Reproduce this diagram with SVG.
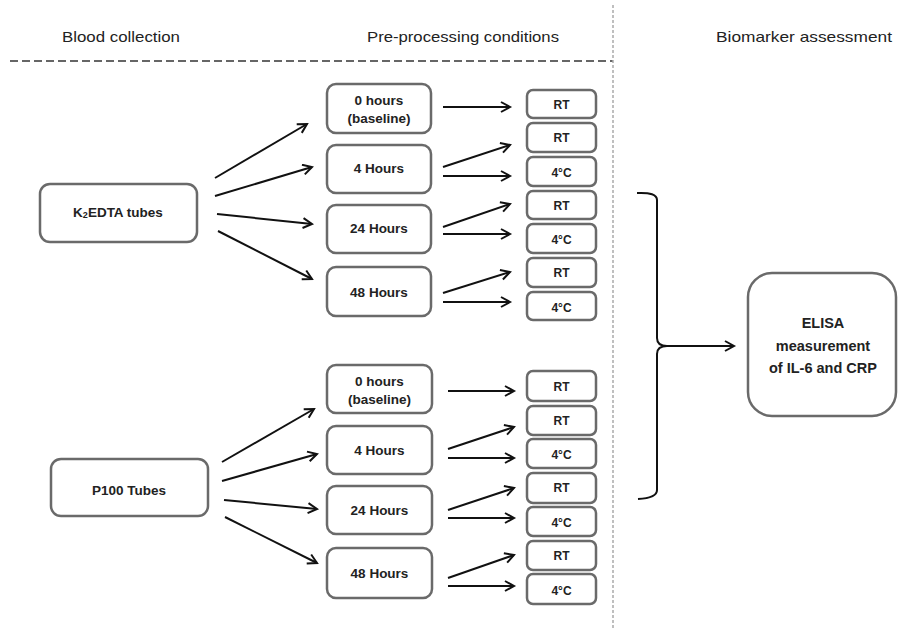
<svg xmlns="http://www.w3.org/2000/svg" width="898" height="630" viewBox="0 0 898 630">
<defs>
<style>
.hdr{font-family:"Liberation Sans",Arial,sans-serif;font-size:15px;fill:#222;}
.box{fill:#fff;stroke:#6a6a6a;stroke-width:2.5;}
.lbl{font-family:"Liberation Sans",Arial,sans-serif;font-weight:bold;font-size:13.5px;fill:#222;text-anchor:middle;dominant-baseline:central;}
.sm{font-size:12px;}
.big{font-size:14.5px;}
.arr{stroke:#111;stroke-width:2;fill:none;marker-end:url(#ah);}
</style>
<marker id="ah" markerUnits="userSpaceOnUse" markerWidth="14" markerHeight="14" refX="11" refY="6" orient="auto">
<path d="M2,1 L11,6 L2,11" fill="none" stroke="#111" stroke-width="2"/>
</marker>
</defs>
<rect width="898" height="630" fill="#fff"/>

<g id="headers">
<text class="hdr" x="62" y="42" textLength="118" lengthAdjust="spacingAndGlyphs">Blood collection</text>
<text class="hdr" x="367" y="42" textLength="192" lengthAdjust="spacingAndGlyphs">Pre-processing conditions</text>
<text class="hdr" x="716" y="42" textLength="176" lengthAdjust="spacingAndGlyphs">Biomarker assessment</text>
</g>
<g id="dividers">
<line x1="10" y1="61" x2="613" y2="61" stroke="#666" stroke-width="2" stroke-dasharray="8,4"/>
<line x1="613" y1="5" x2="613" y2="630" stroke="#aaa" stroke-width="1.5" stroke-dasharray="3,2"/>
</g>

<g id="k2edta"><rect class="box" x="40" y="184" width="157" height="58" rx="10"/><text class="lbl" x="118" y="212">K<tspan font-size="9" dy="3">2</tspan><tspan dy="-3">EDTA tubes</tspan></text></g>
<g id="t0a"><rect class="box" x="327" y="84" width="104" height="49" rx="9"/><text class="lbl" x="379" y="100">0 hours</text><text class="lbl" x="379" y="118">(baseline)</text></g>
<g id="t4a"><rect class="box" x="327" y="145" width="104" height="48" rx="9"/><text class="lbl" x="379" y="168">4 Hours</text></g>
<g id="t24a"><rect class="box" x="327" y="205" width="104" height="48" rx="9"/><text class="lbl" x="379" y="228">24 Hours</text></g>
<g id="t48a"><rect class="box" x="327" y="267" width="104" height="49" rx="9"/><text class="lbl" x="379" y="292">48 Hours</text></g>
<g id="ra1"><rect class="box" x="527" y="90" width="69" height="28" rx="6"/><text class="lbl sm" x="561.5" y="105">RT</text></g>
<g id="ra2"><rect class="box" x="527" y="123" width="69" height="29" rx="6"/><text class="lbl sm" x="561.5" y="138">RT</text></g>
<g id="ra3"><rect class="box" x="527" y="157" width="69" height="29" rx="6"/><text class="lbl sm" x="561.5" y="173">4°C</text></g>
<g id="ra4"><rect class="box" x="527" y="191" width="69" height="28" rx="6"/><text class="lbl sm" x="561.5" y="206">RT</text></g>
<g id="ra5"><rect class="box" x="527" y="224" width="69" height="29" rx="6"/><text class="lbl sm" x="561.5" y="240">4°C</text></g>
<g id="ra6"><rect class="box" x="527" y="258" width="69" height="29" rx="6"/><text class="lbl sm" x="561.5" y="273">RT</text></g>
<g id="ra7"><rect class="box" x="527" y="292" width="69" height="28" rx="6"/><text class="lbl sm" x="561.5" y="308">4°C</text></g>

<g id="p100"><rect class="box" x="51" y="459" width="157" height="57" rx="10"/><text class="lbl" x="129" y="490">P100 Tubes</text></g>
<g id="t0b"><rect class="box" x="327" y="365" width="105" height="48" rx="9"/><text class="lbl" x="379.5" y="381">0 hours</text><text class="lbl" x="379.5" y="399">(baseline)</text></g>
<g id="t4b"><rect class="box" x="327" y="426" width="105" height="48" rx="9"/><text class="lbl" x="379.5" y="450">4 Hours</text></g>
<g id="t24b"><rect class="box" x="327" y="486" width="105" height="48" rx="9"/><text class="lbl" x="379.5" y="510">24 Hours</text></g>
<g id="t48b"><rect class="box" x="327" y="548" width="105" height="50" rx="9"/><text class="lbl" x="379.5" y="573">48 Hours</text></g>
<g id="rb1"><rect class="box" x="527" y="371" width="69" height="30" rx="6"/><text class="lbl sm" x="561.5" y="387">RT</text></g>
<g id="rb2"><rect class="box" x="527" y="406" width="69" height="29" rx="6"/><text class="lbl sm" x="561.5" y="421">RT</text></g>
<g id="rb3"><rect class="box" x="527" y="439" width="69" height="29" rx="6"/><text class="lbl sm" x="561.5" y="455">4°C</text></g>
<g id="rb4"><rect class="box" x="527" y="473" width="69" height="30" rx="6"/><text class="lbl sm" x="561.5" y="488">RT</text></g>
<g id="rb5"><rect class="box" x="527" y="507" width="69" height="29" rx="6"/><text class="lbl sm" x="561.5" y="523">4°C</text></g>
<g id="rb6"><rect class="box" x="527" y="541" width="69" height="29" rx="6"/><text class="lbl sm" x="561.5" y="556">RT</text></g>
<g id="rb7"><rect class="box" x="527" y="574" width="69" height="30" rx="6"/><text class="lbl sm" x="561.5" y="591">4°C</text></g>

<g id="elisa"><rect class="box" x="748" y="273" width="148" height="143" rx="24"/><text class="lbl big" x="823" y="323">ELISA</text><text class="lbl big" x="823" y="346">measurement</text><text class="lbl big" x="823" y="368">of IL-6 and CRP</text></g>

<g id="connectors">
<line class="arr" x1="215" y1="178" x2="307" y2="124"/>
<line class="arr" x1="215" y1="196" x2="312" y2="167"/>
<line class="arr" x1="217" y1="214" x2="312" y2="224"/>
<line class="arr" x1="218" y1="231" x2="312" y2="279"/>
<line class="arr" x1="443" y1="107" x2="510" y2="107"/>
<line class="arr" x1="443" y1="167" x2="510" y2="145"/>
<line class="arr" x1="443" y1="176" x2="510" y2="176"/>
<line class="arr" x1="443" y1="227" x2="510" y2="204"/>
<line class="arr" x1="443" y1="234" x2="510" y2="234"/>
<line class="arr" x1="443" y1="293" x2="510" y2="272"/>
<line class="arr" x1="443" y1="302" x2="510" y2="302"/>

<line class="arr" x1="222" y1="462" x2="314" y2="409"/>
<line class="arr" x1="222" y1="481" x2="317" y2="454"/>
<line class="arr" x1="224" y1="500" x2="317" y2="509"/>
<line class="arr" x1="225" y1="517" x2="317" y2="563"/>
<line class="arr" x1="448" y1="391" x2="514" y2="391"/>
<line class="arr" x1="448" y1="449" x2="514" y2="427"/>
<line class="arr" x1="448" y1="458" x2="514" y2="458"/>
<line class="arr" x1="448" y1="510" x2="514" y2="488"/>
<line class="arr" x1="448" y1="518" x2="514" y2="518"/>
<line class="arr" x1="448" y1="578" x2="514" y2="555"/>
<line class="arr" x1="448" y1="586" x2="514" y2="586"/>

<path d="M637,193 Q657,192 657,200 L657,338 Q657,346 667,346 Q657,346 657,354 L657,490 Q657,498 638,499" fill="none" stroke="#111" stroke-width="2"/>
<line class="arr" x1="665" y1="346" x2="734" y2="346"/>
</g>
</svg>
